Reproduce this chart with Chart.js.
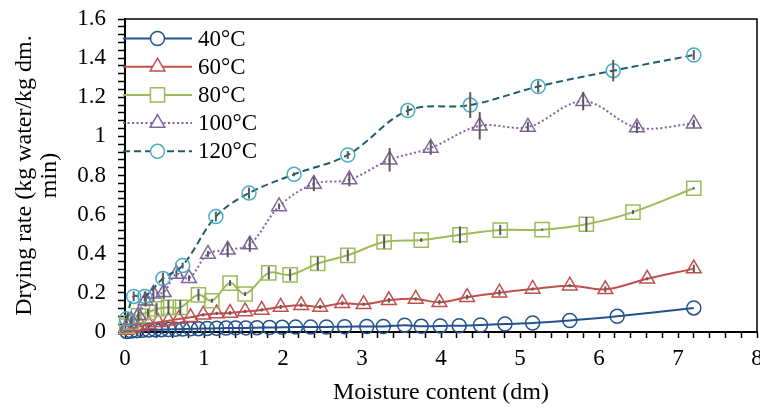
<!DOCTYPE html>
<html><head><meta charset="utf-8">
<script src="https://cdn.jsdelivr.net/npm/chart.js@4.4.0/dist/chart.umd.min.js"></script>
<style>html,body{margin:0;padding:0;background:#fff;}#wrap{width:760px;height:409px;position:relative;}</style>
</head><body><div id="wrap"><canvas id="c" width="760" height="409"></canvas></div>
<script>
// ---- data ----
const seriesLabels = ['40°C', '60°C', '80°C', '100°C', '120°C'];
const xTickLabels = ['0', '1', '2', '3', '4', '5', '6', '7', '8'];
const yTickLabels = ['0', '0.2', '0.4', '0.6', '0.8', '1', '1.2', '1.4', '1.6'];
const xTitle = 'Moisture content (dm)';
const yTitle = ['Drying rate (kg water/kg dm.', 'min)'];

const x40 = [0.02,0.08,0.15,0.22,0.30,0.38,0.46,0.55,0.64,0.73,0.83,0.93,1.04,1.16,1.28,1.40,1.53,1.67,1.83,1.99,2.16,2.35,2.55,2.78,3.06,3.27,3.54,3.75,3.99,4.23,4.50,4.81,5.16,5.63,6.23,7.20];
const y40 = [0.003,0.005,0.007,0.009,0.010,0.011,0.012,0.013,0.014,0.015,0.016,0.017,0.018,0.019,0.020,0.021,0.021,0.022,0.023,0.024,0.025,0.025,0.026,0.027,0.028,0.028,0.035,0.029,0.031,0.032,0.036,0.041,0.046,0.059,0.080,0.123];
const e40 = [];

const x60 = [0.02,0.10,0.20,0.30,0.42,0.55,0.68,0.83,0.99,1.16,1.33,1.52,1.73,1.97,2.23,2.47,2.75,3.02,3.34,3.68,3.98,4.33,4.74,5.16,5.63,6.08,6.61,7.20];
const y60 = [0.010,0.020,0.030,0.040,0.050,0.058,0.066,0.075,0.088,0.095,0.097,0.105,0.113,0.128,0.137,0.128,0.147,0.142,0.162,0.169,0.152,0.178,0.201,0.220,0.237,0.218,0.272,0.324];
const e60 = [0,0,0,0,0,0,0,0,0.008,0.008,0.01,0.008,0.008,0.01,0.01,0.01,0.01,0.008,0.012,0.008,0.012,0.012,0.015,0.008,0.008,0.015,0.008,0.02];

const x80 = [0.02,0.08,0.17,0.29,0.40,0.55,0.70,0.93,1.10,1.33,1.52,1.82,2.09,2.44,2.82,3.28,3.75,4.24,4.75,5.28,5.84,6.43,7.20];
const y80 = [0.030,0.050,0.083,0.100,0.118,0.126,0.126,0.190,0.160,0.250,0.194,0.302,0.292,0.350,0.392,0.460,0.470,0.497,0.521,0.523,0.551,0.613,0.735];
const e80 = [0,0,0.01,0.02,0.03,0.038,0.038,0.03,0.01,0.015,0.01,0.032,0.03,0.034,0.03,0.034,0.01,0.043,0.026,0.005,0.037,0.01,0.005];

const x100 = [0.03,0.08,0.17,0.26,0.36,0.49,0.65,0.81,1.05,1.30,1.58,1.95,2.39,2.84,3.35,3.87,4.49,5.10,5.80,6.48,7.20];
const y100 = [0.030,0.060,0.085,0.160,0.195,0.203,0.297,0.275,0.399,0.420,0.447,0.642,0.757,0.779,0.880,0.941,1.054,1.048,1.180,1.045,1.065];
const e100 = [0,0.02,0.03,0.03,0.04,0.035,0.02,0.015,0.015,0.038,0.037,0.015,0.037,0.034,0.06,0.035,0.07,0.025,0.047,0.028,0.02];

const x120 = [0.02,0.11,0.25,0.48,0.73,1.15,1.57,2.14,2.82,3.58,4.37,5.23,6.18,7.20];
const y120 = [0.068,0.182,0.182,0.273,0.340,0.590,0.710,0.806,0.905,1.132,1.160,1.255,1.336,1.416];
const e120 = [0.02,0.025,0.025,0.03,0.015,0.025,0.028,0.01,0.02,0.025,0.066,0.03,0.055,0.025];

// ---- build ----
const FONT = "'Liberation Serif', 'Times New Roman', serif";
function pts(xs, ys) { return xs.map((x, i) => ({x: x, y: ys[i]})); }

const styles = [
  {line: '#24528E', mark: '#24528E', style: 'circle', r: 7, dash: []},
  {line: '#C0504D', mark: '#C0504D', style: 'triangle', r: 8.5, dash: []},
  {line: '#9BBB59', mark: '#9BBB59', style: 'rect', r: 10, dash: []},
  {line: '#8064A2', mark: '#8064A2', style: 'triangle', r: 8.5, dash: [2, 2.5]},
  {line: '#1F5C6B', mark: '#4BACC6', style: 'circle', r: 7, dash: [7, 4]}
];
const xs = [x40, x60, x80, x100, x120];
const ys = [y40, y60, y80, y100, y120];
const es = [e40, e60, e80, e100, e120];

const datasets = seriesLabels.map((lab, i) => ({
  label: lab,
  data: pts(xs[i], ys[i]),
  errs: es[i],
  showLine: true,
  borderColor: styles[i].line,
  borderWidth: 2,
  borderDash: styles[i].dash,
  tension: 0.35,
  pointStyle: styles[i].style,
  pointRadius: styles[i].r,
  pointHoverRadius: styles[i].r,
  pointBorderColor: styles[i].mark,
  pointBackgroundColor: 'rgba(0,0,0,0)',
  pointBorderWidth: 1.5,
  order: 5 - i,
  clip: 12
}));

const errorBars = {
  id: 'errorBars',
  afterDatasetsDraw(chart) {
    const ctx = chart.ctx, ys = chart.scales.y;
    ctx.save();
    ctx.strokeStyle = '#595959';
    ctx.lineWidth = 2;
    chart.data.datasets.forEach((ds, i) => {
      const meta = chart.getDatasetMeta(i);
      ds.data.forEach((p, j) => {
        const e = ds.errs[j];
        if (!e) return;
        const el = meta.data[j];
        ctx.beginPath();
        ctx.moveTo(el.x, ys.getPixelForValue(p.y - e));
        ctx.lineTo(el.x, ys.getPixelForValue(p.y + e));
        ctx.stroke();
      });
    });
    ctx.restore();
  }
};

const frameAndLegend = {
  id: 'frameAndLegend',
  afterDraw(chart) {
    const ctx = chart.ctx, a = chart.chartArea;
    ctx.save();
    ctx.strokeStyle = '#000';
    ctx.lineWidth = 1.5;
    ctx.beginPath();
    ctx.moveTo(a.left, a.top);
    ctx.lineTo(a.right, a.top);
    ctx.lineTo(a.right, a.bottom);
    ctx.stroke();
    // legend
    const y0 = 38.5, dy = 28.2, lx0 = 123, lx1 = 192, mx = 157.5, tx = 198;
    ctx.font = '23px ' + FONT;
    ctx.textBaseline = 'middle';
    ctx.textAlign = 'left';
    chart.data.datasets.forEach((ds, i) => {
      const y = y0 + i * dy;
      ctx.save();
      ctx.strokeStyle = ds.borderColor;
      ctx.lineWidth = 2;
      ctx.setLineDash(ds.borderDash);
      ctx.beginPath();
      ctx.moveTo(lx0, y);
      ctx.lineTo(lx1, y);
      ctx.stroke();
      ctx.restore();
      ctx.save();
      ctx.strokeStyle = ds.pointBorderColor;
      ctx.fillStyle = '#fff';
      ctx.lineWidth = 1.5;
      Chart.helpers.drawPoint(ctx, {pointStyle: ds.pointStyle, radius: ds.pointRadius, borderWidth: 1.5, rotation: 0}, mx, y);
      ctx.restore();
      ctx.fillStyle = '#000';
      ctx.fillText(ds.label, tx, y + 1);
    });
    ctx.restore();
  }
};

new Chart(document.getElementById('c'), {
  type: 'scatter',
  data: {datasets: datasets},
  plugins: [errorBars, frameAndLegend],
  options: {
    responsive: false,
    devicePixelRatio: 1,
    animation: false,
    layout: {autoPadding: false, padding: {top: 19, right: 3, left: 0, bottom: 0}},
    plugins: {legend: {display: false}, tooltip: {enabled: false}},
    scales: {
      x: {
        type: 'linear', min: 0, max: 8,
        afterFit(s) { s.height = 77; s.paddingLeft = 0; s.paddingRight = 0; },
        ticks: {
          stepSize: 0.2, autoSkip: false, maxRotation: 0, padding: 7,
          color: '#000', font: {family: FONT, size: 23},
          callback(v) { const r = Math.round(v); return Math.abs(v - r) < 1e-6 ? xTickLabels[r] : ''; }
        },
        grid: {drawOnChartArea: false, drawTicks: true, tickLength: 6, tickColor: '#000', tickWidth: 1.5},
        border: {color: '#000', width: 2},
        title: {display: true, text: xTitle, color: '#000', font: {family: FONT, size: 24, lineHeight: 1}, padding: {top: 0, bottom: 4}}
      },
      y: {
        type: 'linear', min: 0, max: 1.6,
        afterFit(s) { s.width = 125; s.paddingTop = 0; s.paddingBottom = 0; },
        ticks: {
          stepSize: 0.04, autoSkip: false, padding: 12,
          color: '#000', font: {family: FONT, size: 23},
          callback(v) { const k = Math.round(v / 0.2); return Math.abs(v - k * 0.2) < 1e-6 ? yTickLabels[k] : ''; }
        },
        grid: {drawOnChartArea: false, drawTicks: true, tickLength: 7, tickColor: '#000', tickWidth: 1.5},
        border: {color: '#000', width: 2},
        title: {display: true, text: yTitle, color: '#000', font: {family: FONT, size: 24, lineHeight: 1.05}, padding: {top: 12, bottom: 0}}
      }
    }
  }
});
</script></body></html>
